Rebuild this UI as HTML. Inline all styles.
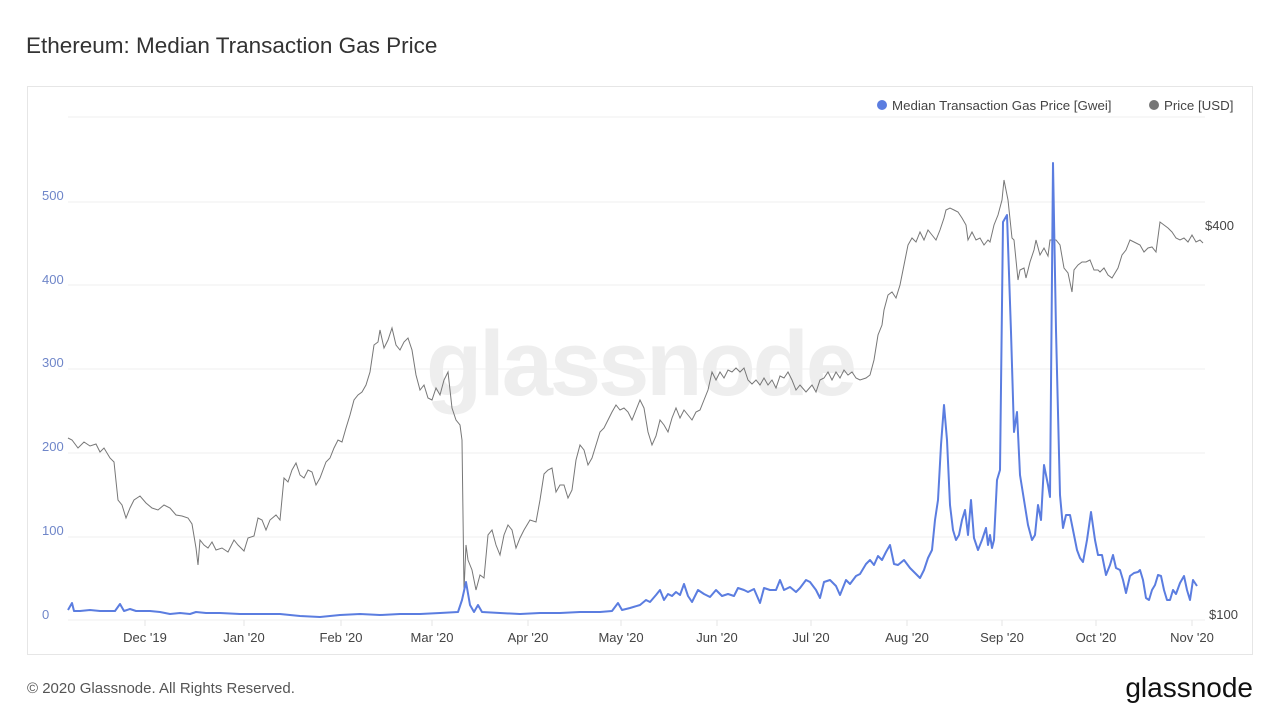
<!DOCTYPE html>
<html><head><meta charset="utf-8"><style>
html,body{margin:0;padding:0;background:#fff;}
body{width:1280px;height:720px;overflow:hidden;font-family:"Liberation Sans",sans-serif;}
</style></head><body>
<svg width="1280" height="720" xmlns="http://www.w3.org/2000/svg" font-family="Liberation Sans, sans-serif">
<rect width="1280" height="720" fill="#fff"/>
<text x="26" y="53" font-size="22.5" fill="#333">Ethereum: Median Transaction Gas Price</text>
<rect x="27.5" y="86.5" width="1225" height="568" fill="#fff" stroke="#e6e6e6"/>
<g stroke="#efefef" stroke-width="1">
<line x1="68" y1="117" x2="1205" y2="117"/>
<line x1="68" y1="202" x2="1205" y2="202"/>
<line x1="68" y1="285" x2="1205" y2="285"/>
<line x1="68" y1="369" x2="1205" y2="369"/>
<line x1="68" y1="453" x2="1205" y2="453"/>
<line x1="68" y1="537" x2="1205" y2="537"/>
<line x1="68" y1="620" x2="1205" y2="620"/>
</g>
<g stroke="#e6e6e6">
<line x1="145" y1="620" x2="145" y2="626"/><line x1="244" y1="620" x2="244" y2="626"/><line x1="341" y1="620" x2="341" y2="626"/><line x1="432" y1="620" x2="432" y2="626"/><line x1="528" y1="620" x2="528" y2="626"/><line x1="621" y1="620" x2="621" y2="626"/><line x1="717" y1="620" x2="717" y2="626"/><line x1="811" y1="620" x2="811" y2="626"/><line x1="907" y1="620" x2="907" y2="626"/><line x1="1002" y1="620" x2="1002" y2="626"/><line x1="1096" y1="620" x2="1096" y2="626"/><line x1="1192" y1="620" x2="1192" y2="626"/>
</g>
<text x="640" y="395" font-size="92" fill="#eeeeee" text-anchor="middle" font-weight="bold" letter-spacing="-3">glassnode</text>
<g font-size="13" fill="#6f86c9">
<text x="42" y="200">500</text><text x="42" y="284">400</text><text x="42" y="367">300</text><text x="42" y="451">200</text><text x="42" y="535">100</text><text x="42" y="619">0</text>
</g>
<g font-size="13" fill="#444">
<text x="1205" y="230">$400</text><text x="1209" y="619">$100</text>
</g>
<g font-size="13" fill="#444" text-anchor="middle">
<text x="145" y="642">Dec '19</text><text x="244" y="642">Jan '20</text><text x="341" y="642">Feb '20</text><text x="432" y="642">Mar '20</text><text x="528" y="642">Apr '20</text><text x="621" y="642">May '20</text><text x="717" y="642">Jun '20</text><text x="811" y="642">Jul '20</text><text x="907" y="642">Aug '20</text><text x="1002" y="642">Sep '20</text><text x="1096" y="642">Oct '20</text><text x="1192" y="642">Nov '20</text>
</g>
<circle cx="882" cy="105" r="5" fill="#5b7de0"/>
<text x="892" y="110" font-size="13.3" fill="#444">Median Transaction Gas Price [Gwei]</text>
<circle cx="1154" cy="105" r="5" fill="#777"/>
<text x="1164" y="110" font-size="13.3" fill="#444">Price [USD]</text>
<polyline fill="none" stroke="#777" stroke-width="1" points="68,438 72,440 78,448 84,442 90,446 96,444 100,452 104,448 110,458 114,462 118,500 122,505 126,518 130,508 134,500 140,496 146,503 152,508 158,510 164,505 170,508 176,515 182,516 188,518 192,524 196,548 198,565 200,540 204,545 208,548 212,542 216,550 222,548 228,552 234,540 238,545 244,551 248,538 254,536 258,518 262,520 266,530 270,520 276,515 280,520 284,478 288,482 292,470 296,463 300,475 304,478 308,470 312,472 316,485 320,478 326,462 330,458 334,448 338,440 342,442 346,428 350,415 354,400 358,395 362,392 366,385 370,372 374,345 378,342 380,330 384,348 388,340 392,328 396,345 400,350 404,342 408,338 412,350 416,375 420,390 424,385 428,398 432,400 436,388 440,395 444,380 448,372 452,408 456,420 460,425 462,440 464,590 466,545 468,560 472,570 476,590 480,575 484,578 488,535 492,530 496,545 500,555 504,535 508,525 512,530 516,548 520,538 524,530 530,520 536,522 540,500 544,474 548,470 552,468 556,492 560,485 564,485 568,498 572,490 576,460 580,445 584,450 588,465 592,458 596,445 600,432 604,428 608,420 612,412 616,405 620,410 624,408 628,412 632,420 636,410 640,400 644,408 648,432 652,445 656,436 660,420 664,425 668,432 672,418 676,408 680,418 684,410 688,415 692,420 696,412 700,410 704,400 708,390 712,372 716,380 720,372 724,378 728,370 732,372 736,368 740,372 744,368 748,380 752,384 756,380 760,385 764,378 768,385 772,380 776,388 780,376 784,378 788,372 792,380 796,390 800,385 806,392 812,385 816,392 820,380 824,378 828,372 832,380 836,372 840,378 844,370 848,375 852,372 856,378 860,380 866,378 870,375 874,360 878,335 882,325 884,310 888,295 892,292 896,298 900,285 904,265 908,245 912,238 916,242 920,232 924,240 928,230 932,235 936,240 940,230 944,218 946,210 950,208 954,210 958,212 962,218 966,225 968,240 972,232 976,240 980,238 984,245 988,240 990,242 994,225 998,215 1002,200 1004,180 1008,200 1012,238 1014,240 1018,280 1020,270 1024,268 1026,278 1030,262 1034,250 1036,240 1040,255 1044,248 1048,256 1050,240 1052,240 1056,240 1060,245 1064,268 1068,273 1072,292 1074,270 1078,265 1082,262 1086,262 1090,260 1094,270 1098,270 1100,272 1104,268 1108,275 1112,278 1118,268 1122,255 1126,250 1130,240 1134,242 1140,245 1144,252 1148,248 1152,247 1156,252 1160,222 1164,225 1168,228 1172,232 1176,238 1180,240 1184,238 1188,242 1192,235 1196,242 1200,240 1203,243"/>
<polyline fill="none" stroke="#5b7de0" stroke-width="2" stroke-linejoin="round" points="68,610 72,603 74,611 80,611 90,610 100,611 115,611 120,604 124,611 130,609 136,611 150,611 160,612 170,614 180,613 190,614 196,612 206,613 220,613 240,614 260,614 280,614 300,616 320,617 340,615 360,614 380,615 400,614 420,614 440,613 458,612 462,600 466,582 470,605 474,612 478,605 482,612 500,613 520,614 540,613 560,613 580,612 600,612 612,611 618,603 622,610 630,608 640,605 646,600 650,602 656,595 660,590 664,600 668,594 672,596 676,592 680,595 684,584 688,596 692,602 698,590 704,594 710,597 716,590 722,596 728,594 734,596 738,588 744,590 748,592 754,589 760,603 764,588 770,590 776,590 780,580 784,590 790,587 796,592 800,588 806,580 810,582 816,590 820,598 824,582 830,580 836,586 840,595 846,580 850,584 856,576 860,574 866,564 870,560 874,565 878,556 882,560 886,552 890,545 894,564 898,565 904,560 910,568 916,574 920,578 924,570 928,558 932,550 935,520 938,500 941,445 944,405 947,440 950,505 953,530 956,540 959,535 962,520 965,510 968,535 971,500 974,538 978,550 982,540 986,528 988,545 990,535 992,548 994,540 997,480 1000,470 1003,222 1007,215 1011,332 1014,432 1017,412 1020,475 1024,500 1028,525 1032,540 1035,535 1038,505 1041,520 1044,465 1048,485 1050,497 1053,163 1056,330 1060,495 1063,528 1066,515 1070,515 1074,535 1077,550 1080,558 1083,562 1087,540 1091,512 1095,540 1098,555 1102,555 1106,575 1110,565 1113,555 1116,568 1120,570 1123,580 1126,593 1130,576 1134,573 1138,572 1140,570 1143,580 1146,598 1149,600 1152,590 1155,585 1158,575 1161,576 1164,590 1167,600 1170,600 1173,590 1176,594 1180,583 1184,576 1187,590 1190,600 1193,580 1197,586"/>
<text x="27" y="693" font-size="15" fill="#555">© 2020 Glassnode. All Rights Reserved.</text>
<text x="1253" y="697" font-size="28" fill="#111" text-anchor="end" letter-spacing="0">glassnode</text>
</svg>
</body></html>
